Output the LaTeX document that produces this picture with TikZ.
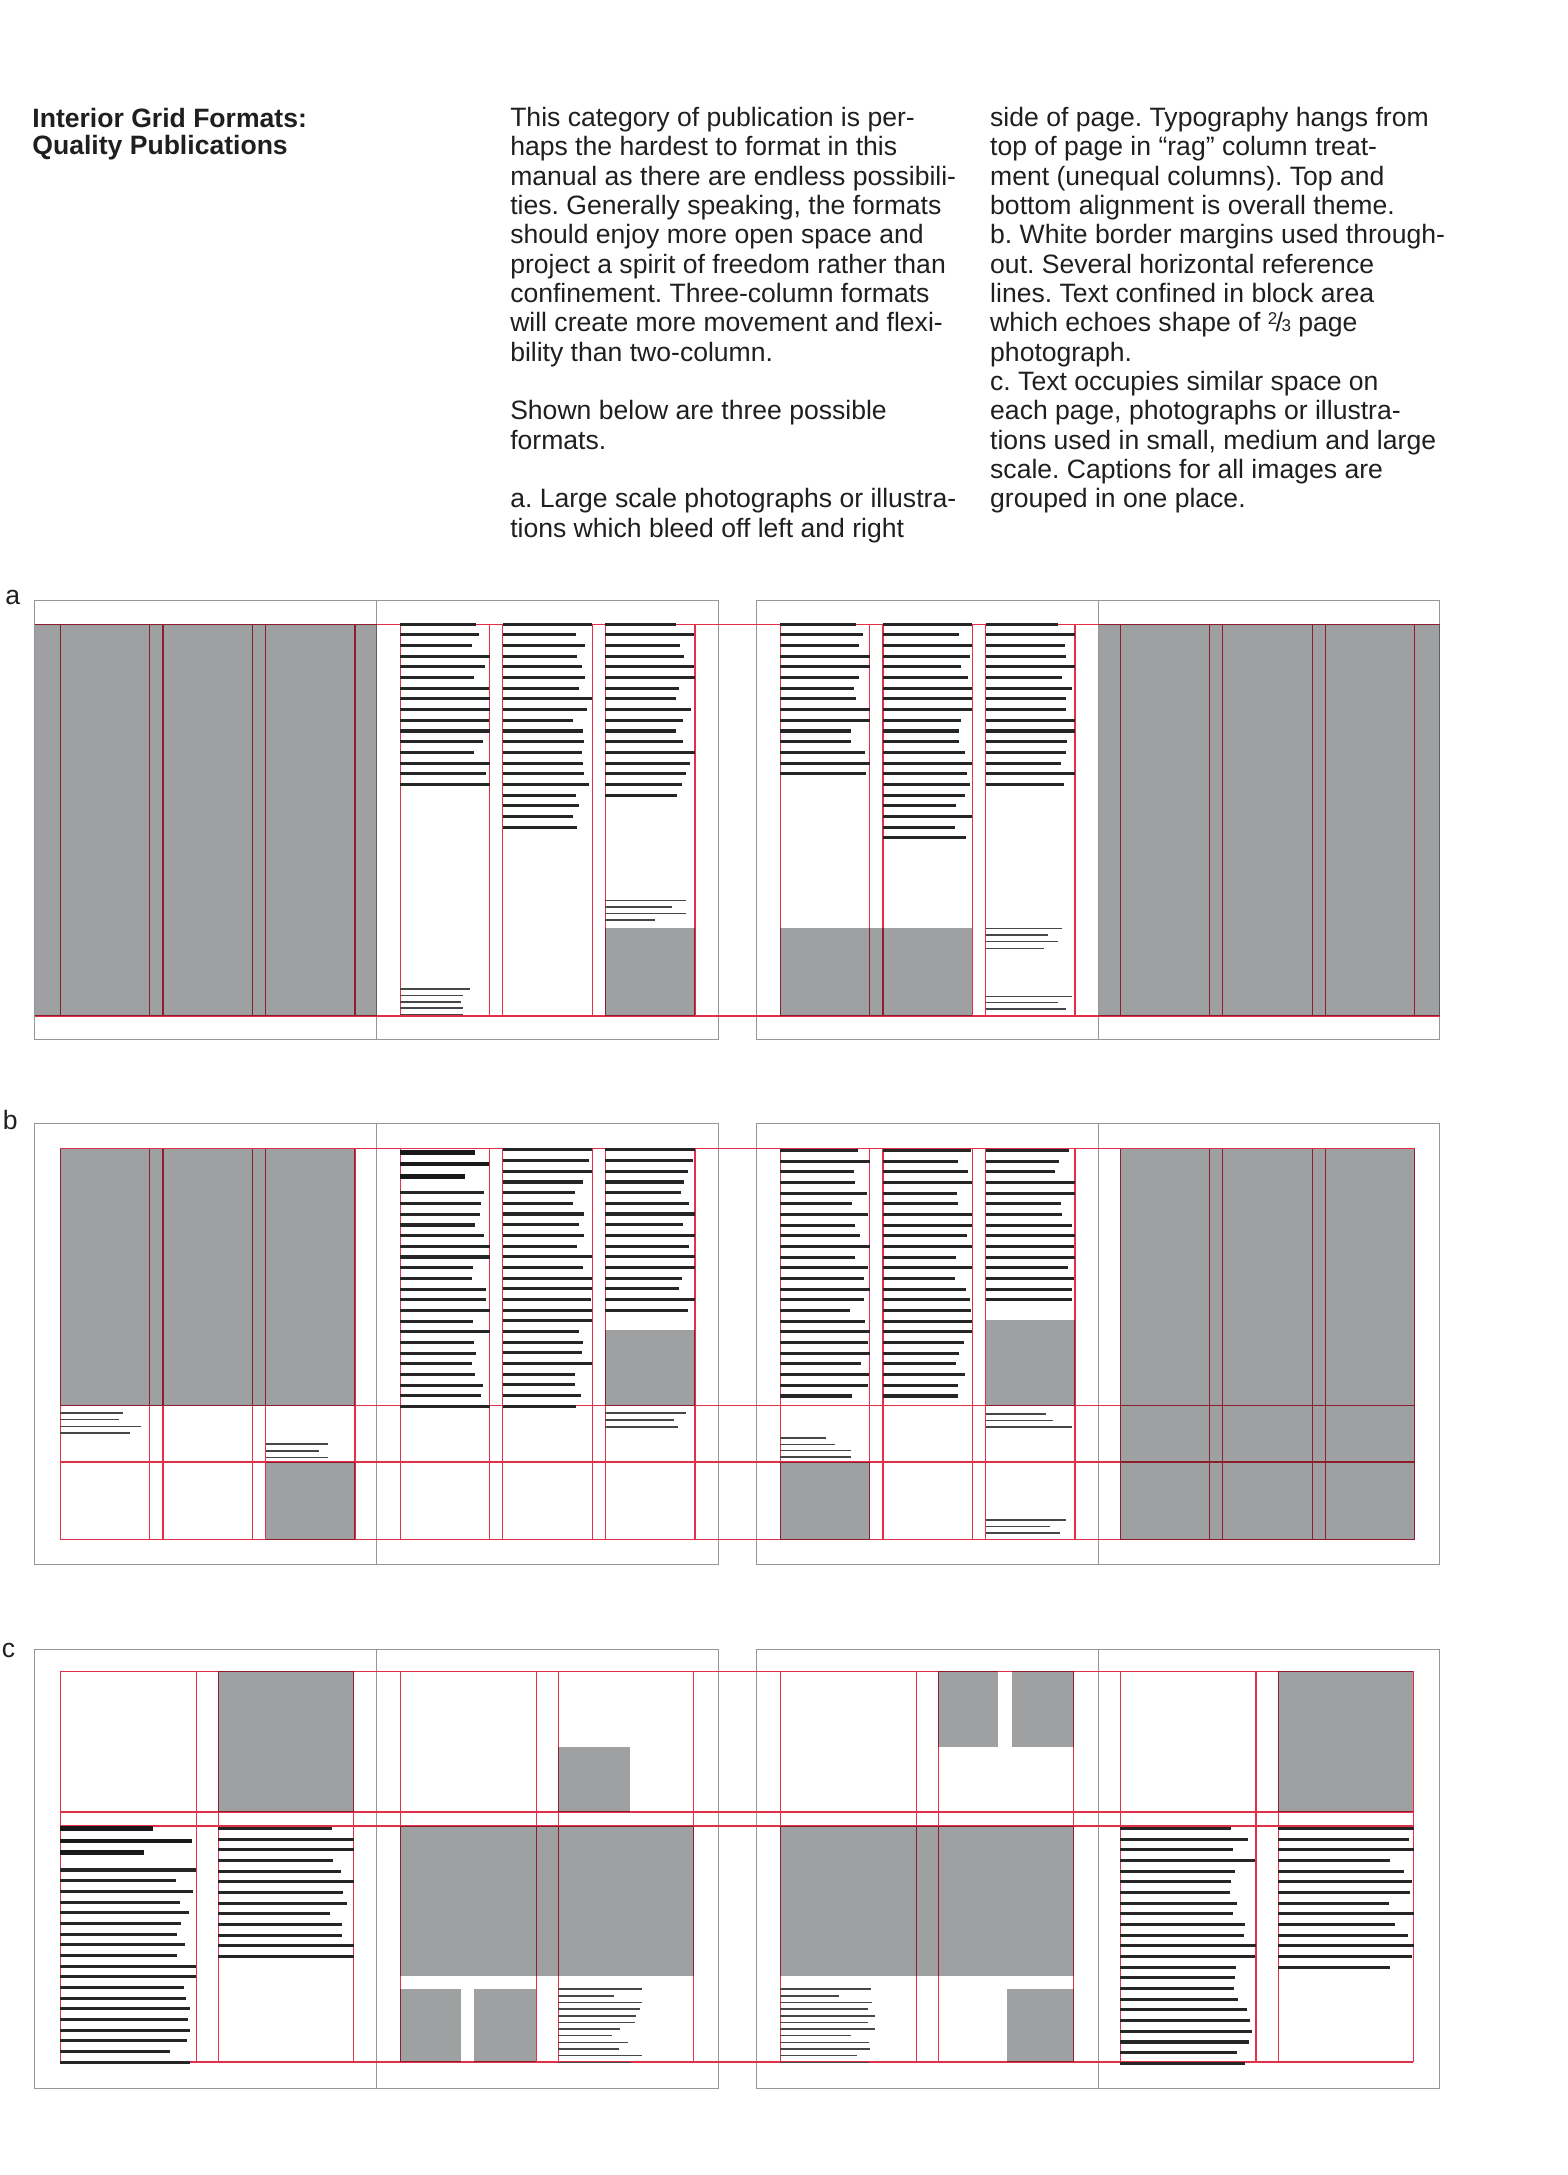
\documentclass[tikz,border=0pt]{standalone}
\usepackage{fontspec}
\setmainfont{Liberation Sans}
\usetikzlibrary{calc}
\frenchspacing

\definecolor{pagegray}{RGB}{150,150,150}
\definecolor{gridred}{RGB}{226,48,72}
\definecolor{photogray}{RGB}{158,160,162}
\definecolor{inkgray}{RGB}{38,38,38}

% a column of text bars: style, x, top y, count, width, step, shortest fraction
\newcommand{\bars}[7]{%
  \foreach \k in {1,...,#4}{%
    \pgfmathsetmacro\blen{#5*min(1,#7+(1.08-#7)*rnd)}%
    \draw[#1] (#2,{#3+(\k-1)*#6}) -- ++(\blen,0);
  }%
}
\newcommand{\twothirds}{\raisebox{0.55ex}{\fontsize{7}{7}\selectfont 2}\kern-0.06em/\kern-0.06em{\fontsize{7}{7}\selectfont 3}}

\begin{document}
\begin{tikzpicture}[x=0.02cm, y=-0.02cm,
  spread/.style={draw=pagegray, line width=0.5pt},
  gridline/.style={draw=gridred, line width=0.5pt},
  photo/.style={fill=photogray},
  textbar/.style={draw=inkgray, line width=1.25pt},
  capbar/.style={draw=inkgray!85, line width=0.6pt},
  headbar/.style={draw=black!90, line width=1.9pt},
  body/.style={anchor=base west, inner sep=0pt, font=\fontsize{10.9}{12}\selectfont, text=black!88}]

\useasboundingbox (0,0) rectangle (1130,1568);
\pgfmathsetseed{42}

% page origins for the columns
\def\pA{26.5}
\def\pB{271.5}
\def\pC{545.5}
\def\pD{790.5}

% heading and text
\node[body, font=\fontsize{10.9}{12}\selectfont\bfseries] (title1) at (23,92) {Interior Grid Formats:};
\node[body, font=\fontsize{10.9}{12}\selectfont\bfseries] (title2) at (23,111.3) {Quality Publications};

\foreach \t [count=\i] in {This category of publication is per-,
  haps the hardest to format in this,
  manual as there are endless possibili-,
  {ties. Generally speaking, the formats},
  should enjoy more open space and,
  project a spirit of freedom rather than,
  confinement. Three-column formats,
  will create more movement and flexi-,
  bility than two-column.,
  {},
  Shown below are three possible,
  formats.,
  {},
  a. Large scale photographs or illustra-,
  tions which bleed off left and right}
  \node[body] (left\i) at (367.5,{91.3+21.14*(\i-1)}) {\t};

\foreach \t [count=\i] in {side of page. Typography hangs from,
  top of page in ``rag'' column treat-,
  ment (unequal columns). Top and,
  bottom alignment is overall theme.,
  b. White border margins used through-,
  out. Several horizontal reference,
  lines. Text confined in block area,
  which echoes shape of \twothirds\ page,
  photograph.,
  c. Text occupies similar space on,
  {each page, photographs or illustra-},
  {tions used in small, medium and large},
  scale. Captions for all images are,
  grouped in one place.}
  \node[body] (right\i) at (713.5,{91.3+21.14*(\i-1)}) {\t};

\node[body] (rowa) at (3.5,436) {a};
\node[body] (rowb) at (1.7,814.4) {b};
\node[body] (rowc) at (1,1195) {c};

% ---- a ----
\draw[spread] (25,433) rectangle (518,749.5) (271.5,433) -- (271.5,749.5);
\draw[spread] (545.5,433) rectangle (1038,749.5) (791.75,433) -- (791.75,749.5);
\draw[gridline] (25,450) -- (1038,450) (25,732.5) -- (1038,732.5);
\foreach \p in {\pA,\pB,\pC,\pD}
  \foreach \c in {17,81.5,91,155.5,165,229.5}
    \draw[gridline] (\p+\c,450) -- (\p+\c,732.5);

% ---- b ----
\draw[spread] (25,810) rectangle (518,1128) (271.5,810) -- (271.5,1128);
\draw[spread] (545.5,810) rectangle (1038,1128) (791.75,810) -- (791.75,1128);
\foreach \h in {828,1013.3,1054,1110}
  \draw[gridline] (43.5,\h) -- (1020,\h);
\foreach \p in {\pA,\pB,\pC,\pD}
  \foreach \c in {17,81.5,91,155.5,165,229.5}
    \draw[gridline] (\p+\c,828) -- (\p+\c,1110);

% ---- c ----
\draw[spread] (25,1189) rectangle (518,1505.7) (271.5,1189) -- (271.5,1505.7);
\draw[spread] (545.5,1189) rectangle (1038,1505.7) (791.75,1189) -- (791.75,1505.7);
\foreach \h in {1205,1306.3,1316.4,1486.5}
  \draw[gridline] (43.5,\h) -- (1019,\h);
\foreach \p in {\pA,\pB,\pC,\pD}
  \foreach \c in {17,115,131,228.5}
    \draw[gridline] (\p+\c,1205) -- (\p+\c,1486.5);

% photographs
\begin{scope}[blend mode=multiply]
\fill[photo] (25,450) rectangle (271.5,732.5);
\fill[photo] (436.5,669) rectangle (501,732.5);
\fill[photo] (562.5,669) rectangle (701,732.5);
\fill[photo] (792,450) rectangle (1038,732.5);

\fill[photo] (43.5,828) rectangle (256,1013.3);
\fill[photo] (191.5,1054) rectangle (256,1110);
\fill[photo] (436.5,958.5) rectangle (501,1013.3);
\fill[photo] (562.5,1054) rectangle (627,1110);
\fill[photo] (710.5,951.3) rectangle (775,1013.3);
\fill[photo] (807.5,828) rectangle (1020,1110);

\fill[photo] (157.5,1205) rectangle (255,1306.3);
\fill[photo] (402.5,1259.2) rectangle (454,1306.3);
\fill[photo] (288.5,1316.4) rectangle (500,1424.5);
\fill[photo] (288.5,1433.6) rectangle (332.5,1486.5);
\fill[photo] (341.6,1433.6) rectangle (386.5,1486.5);
\fill[photo] (676.5,1205) rectangle (719.3,1259.2);
\fill[photo] (729.5,1205) rectangle (774,1259.2);
\fill[photo] (562.5,1316.4) rectangle (774,1424.5);
\fill[photo] (726,1433.6) rectangle (774,1486.5);
\fill[photo] (921.5,1205) rectangle (1019,1306.3);
\end{scope}

% text bars, a
\bars{textbar}{288.5}{450}{16}{64.5}{7.7}{.78}
\bars{textbar}{362.5}{450}{20}{64.5}{7.7}{.78}
\bars{textbar}{436.5}{450}{17}{64.5}{7.7}{.78}
\bars{capbar}{288.5}{713}{5}{50}{4.6}{.78}
\bars{capbar}{436.5}{649.3}{4}{58}{4.7}{.55}
\bars{textbar}{562.5}{450}{15}{64.5}{7.7}{.78}
\bars{textbar}{636.5}{450}{21}{64.5}{7.7}{.78}
\bars{textbar}{710.5}{450}{16}{64.5}{7.7}{.78}
\bars{capbar}{710.5}{669.5}{4}{62}{4.7}{.65}
\bars{capbar}{710.5}{718.3}{3}{62}{4.6}{.7}

% text bars, b
\bars{capbar}{43.5}{1018.6}{4}{58}{4.8}{.7}
\bars{capbar}{191.5}{1040.9}{3}{45}{5}{.8}
\draw[headbar] (288.5,830.7) -- ++(54,0) (288.5,839.2) -- ++(64,0) (288.5,848) -- ++(47,0);
\bars{textbar}{288.5}{860}{21}{64.5}{7.7}{.78}
\bars{textbar}{362.5}{829}{25}{64.5}{7.7}{.78}
\bars{textbar}{436.5}{829}{16}{64.5}{7.7}{.78}
\bars{capbar}{436.5}{1018.6}{3}{58}{5}{.7}
\bars{textbar}{562.5}{829.3}{24}{64.5}{7.7}{.78}
\bars{capbar}{562.5}{1036.6}{4}{51}{4.6}{.5}
\bars{textbar}{636.5}{829.3}{24}{64.5}{7.7}{.78}
\bars{textbar}{710.5}{829.3}{15}{64.5}{7.7}{.78}
\bars{capbar}{710.5}{1019.3}{3}{62}{4.8}{.7}
\bars{capbar}{710.5}{1095.9}{3}{62}{4.6}{.7}

% text bars, c
\draw[headbar] (43.5,1318.3) -- ++(67,0) (43.5,1327.2) -- ++(95,0) (43.5,1335.6) -- ++(60,0);
\bars{textbar}{43.5}{1348.1}{19}{98}{7.7}{.8}
\bars{textbar}{157.5}{1318.1}{13}{98}{7.7}{.8}
\bars{capbar}{402.5}{1434}{12}{60}{4.8}{.55}
\bars{capbar}{562.5}{1434}{12}{68}{4.8}{.6}
\bars{textbar}{807.5}{1318.1}{23}{98}{7.7}{.8}
\bars{textbar}{921.5}{1318.1}{14}{98}{7.7}{.8}

\end{tikzpicture}
\end{document}
